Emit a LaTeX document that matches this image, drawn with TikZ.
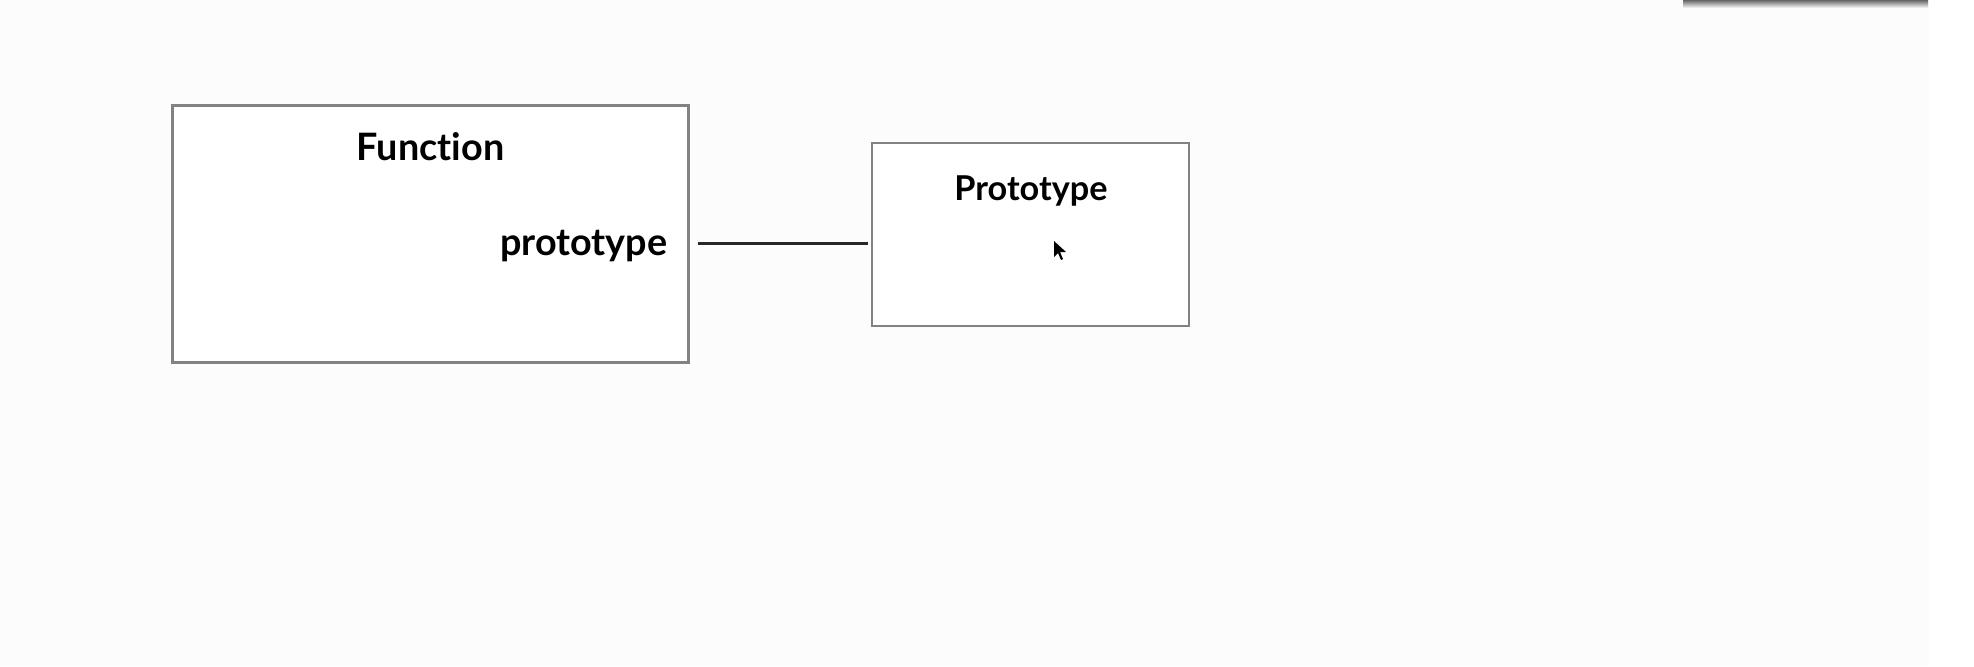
\documentclass[tikz,border=0pt]{standalone}
\usepackage{fontspec}
\setmainfont{Lato}[Ligatures=NoCommon]
\usepackage{tikz}
\usetikzlibrary{calc}
\definecolor{bgcol}{RGB}{252,252,252}
\definecolor{boxgray}{RGB}{130,130,130}
\definecolor{linkcol}{RGB}{40,40,40}
\tikzset{
  box/.style={draw=boxgray, line width=1.2pt, fill=white, inner sep=0pt},
  label/.style={inner sep=0pt, font=\bfseries\fontsize{21.5}{26}\selectfont},
  title/.style={inner sep=0pt, font=\bfseries\fontsize{19.5}{24}\selectfont},
  link/.style={draw=linkcol, line width=1.7pt}
}
\begin{document}
\begin{tikzpicture}[x=0.02cm, y=-0.02cm]
        \useasboundingbox (0,0) rectangle (1974,666);
        \fill[white] (0,0) rectangle (1974,666);
        \fill[bgcol] (0,0) rectangle (1929,666);
        \shade[top color=black!60, bottom color=bgcol] (1683,0) rectangle (1928,8);
        \node[box, minimum width=10.32cm, minimum height=5.14cm] (fn) at (430.5,234) {};
        \node[box, minimum width=6.34cm, minimum height=3.65cm] (proto) at (1030.5,234.5) {};
        \node[label, anchor=base] (fname) at (430.5,160.5) {Function};
        \node[label, anchor=base east] (prop) at (667.5,255.5) {prototype};
        \node[title, anchor=base] (pname) at (1031,200.7) {Prototype};
        \draw[link, shorten <=0.16cm, shorten >=0.06cm] ([yshift=0.24cm]prop.base -| fn.east) -- ([yshift=0.24cm]prop.base -| proto.west);
        \fill[black] (1054,241) -- (1054,257) -- (1058,253) -- (1061,260) -- (1063,259) -- (1060,252) -- (1066,252) -- cycle;
\end{tikzpicture}
\end{document}
